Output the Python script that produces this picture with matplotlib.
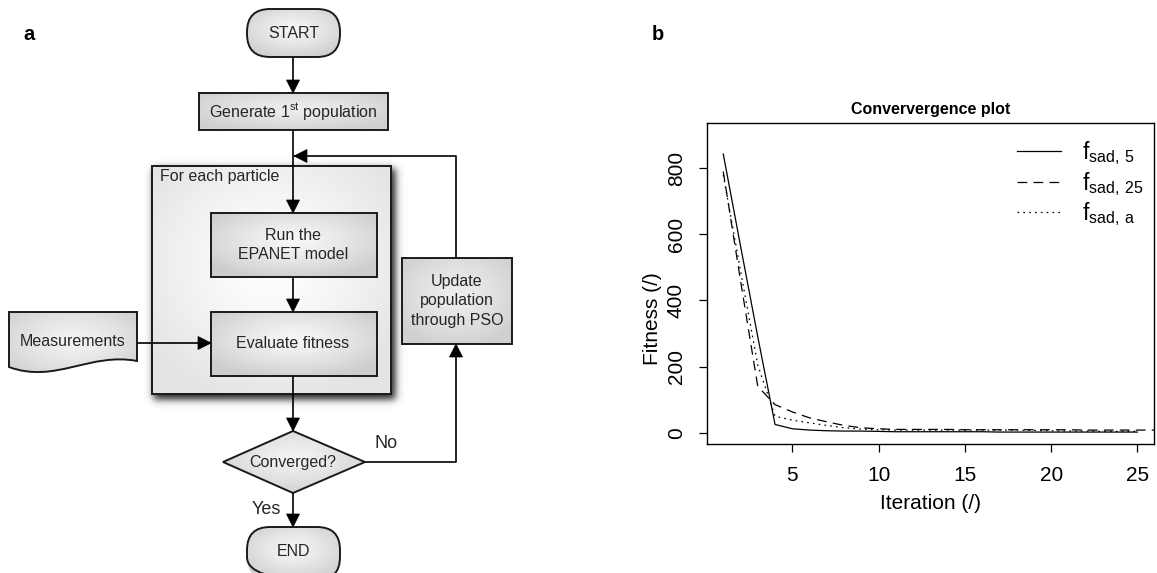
import matplotlib
matplotlib.use('Agg')

import matplotlib.pyplot as plt
import numpy as np
from matplotlib.patches import Rectangle, FancyBboxPatch, Polygon, PathPatch
from matplotlib.path import Path

plt.rcParams['font.family'] = ['Liberation Sans', 'DejaVu Sans']
plt.rcParams['mathtext.default'] = 'regular'
plt.rcParams['lines.scale_dashes'] = False

# ---- convergence data (panel b) ----
iter_a = list(range(1, 26))
f_sad5 = [843, 565, 290, 25, 12, 8, 6, 5, 5, 4, 3, 3, 3, 3, 3, 3, 2, 2, 2, 2, 2, 2, 2, 2, 2]
iter_b = list(range(1, 27))
f_sad25 = [790, 460, 140, 85, 63, 45, 33, 22, 15, 12, 10, 10, 10, 10, 9, 9, 9, 9, 9, 9, 9, 8, 8, 8, 8, 8]
f_sada = [780, 490, 205, 50, 38, 30, 22, 15, 11, 9, 8, 8, 8, 8, 8, 8, 8, 8, 7, 6, 5, 5, 4, 4, 4]
series_labels = [r'$f_{sad,\,5}$', r'$f_{sad,\,25}$', r'$f_{sad,\,a}$']
x_ticks = [5, 10, 15, 20, 25]
y_ticks = [0, 200, 400, 600, 800]

# ---- flowchart layout (panel a), pixel coords ----
cx = 293
boxes = {
    'gen': (199, 93, 388, 130),
    'run': (211, 213, 377, 277),
    'eval': (211, 312, 377, 376),
    'upd': (402, 258, 512, 344),
}
TXT = '#262626'
EDGE = '#1a1a1a'
FS = 11.5

W, H = 1157, 573
fig = plt.figure(figsize=(W / 100, H / 100), dpi=100)
axf = fig.add_axes([0, 0, 1, 1])
axf.set_xlim(0, W)
axf.set_ylim(H, 0)
axf.axis('off')


def grad_fill(patch, ext, c0, c1, z):
    x0, y0, x1, y1 = ext
    X, Y = np.meshgrid(np.linspace(-1, 1, 160), np.linspace(-1, 1, 100))
    r = np.clip(np.sqrt(X ** 2 + (Y + 0.15) ** 2) / 1.25, 0, 1)
    c0 = np.array(matplotlib.colors.to_rgb(c0))
    c1 = np.array(matplotlib.colors.to_rgb(c1))
    img = c0 + (c1 - c0) * (r ** 1.3)[..., None]
    im = axf.imshow(img, extent=(x0, x1, y1, y0), aspect='auto', zorder=z, interpolation='bilinear')
    im.set_clip_path(patch)


def rbox(key, c0='#f7f7f7', c1='#cdcdcd', z=3):
    x0, y0, x1, y1 = boxes[key]
    p = Rectangle((x0, y0), x1 - x0, y1 - y0, fc='none', ec=EDGE, lw=1.4, zorder=z + 1)
    axf.add_patch(p)
    grad_fill(p, (x0, y0, x1, y1), c0, c1, z)


def arrow(pts, z=6):
    xs = [p[0] for p in pts]
    ys = [p[1] for p in pts]
    axf.plot(xs, ys, color='black', lw=1.2, zorder=z, solid_capstyle='butt')
    (xa, ya), (xb, yb) = pts[-2], pts[-1]
    d = np.array([xb - xa, yb - ya], float)
    d /= np.hypot(*d)
    n = np.array([-d[1], d[0]])
    tip = np.array([xb, yb])
    base = tip - d * 13
    tri = [tip, base + n * 6.5, base - n * 6.5]
    axf.add_patch(Polygon(tri, closed=True, fc='black', ec='black', lw=0.5, zorder=z))


def stadium(x0, y0, x1, y1, label, ty):
    p = FancyBboxPatch((x0, y0), x1 - x0, y1 - y0, boxstyle='round,pad=0,rounding_size=23',
                       fc='none', ec=EDGE, lw=1.4, zorder=4)
    axf.add_patch(p)
    grad_fill(p, (x0, y0, x1, y1), '#f5f5f5', '#cfcfcf', 3)
    axf.text((x0 + x1) / 2, ty, label, ha='center', va='center', fontsize=FS, color=TXT, zorder=5)


axf.text(29, 35, 'a', fontsize=14.5, fontweight='bold', ha='center', va='center')
axf.text(658, 35, 'b', fontsize=14.5, fontweight='bold', ha='center', va='center')

stadium(247, 9, 340, 57, 'START', 33)
stadium(247, 527, 340, 580, 'END', 552)

# big loop box with shadow
bx0, by0, bx1, by1 = 152, 166, 391, 394
gx, gy = np.meshgrid(np.arange(bx0 - 20, bx1 + 25), np.arange(by0 - 20, by1 + 25))
s = 4.5
ox, oy = 4, 5
ax_ = 0.5 * (1 + np.tanh((gx - bx0 - ox + 3) / s)) * 0.5 * (1 - np.tanh((gx - bx1 - ox) / s))
ay_ = 0.5 * (1 + np.tanh((gy - by0 - oy + 3) / s)) * 0.5 * (1 - np.tanh((gy - by1 - oy) / s))
shadow = np.zeros(gx.shape + (4,))
shadow[..., 3] = 0.85 * ax_ * ay_
axf.imshow(shadow, extent=(bx0 - 20, bx1 + 25, by1 + 25, by0 - 20), aspect='auto', zorder=1)
big = Rectangle((bx0, by0), bx1 - bx0, by1 - by0, fc='none', ec=EDGE, lw=1.4, zorder=2.5)
axf.add_patch(big)
grad_fill(big, (bx0, by0, bx1, by1), '#ffffff', '#e4e4e4', 2)
axf.text(160, 177, 'For each particle', ha='left', va='center', fontsize=FS, color=TXT, zorder=5)

rbox('gen', '#eeeeee', '#cfcfcf')
rbox('run')
rbox('eval')
rbox('upd', '#eeeeee', '#d0d0d0')
axf.text(cx, 112, 'Generate 1$^{st}$ population', ha='center', va='center', fontsize=FS, color=TXT, zorder=5)
axf.text(cx, 245, 'Run the\nEPANET model', ha='center', va='center', fontsize=FS, color=TXT,
         linespacing=1.4, zorder=5)
axf.text(cx, 344, 'Evaluate fitness', ha='center', va='center', fontsize=FS, color=TXT, zorder=5)
axf.text(457, 301, 'Update\npopulation\nthrough PSO', ha='center', va='center', fontsize=FS,
         color=TXT, linespacing=1.4, zorder=5)

# measurements document shape
doc = Path([(9, 312), (137, 312), (137, 361), (90, 352), (55, 384), (9, 367), (9, 312)],
           [Path.MOVETO, Path.LINETO, Path.LINETO, Path.CURVE4, Path.CURVE4, Path.CURVE4, Path.CLOSEPOLY])
dp = PathPatch(doc, fc='none', ec=EDGE, lw=1.4, zorder=4)
axf.add_patch(dp)
grad_fill(dp, (9, 312, 137, 380), '#f3f3f3', '#d2d2d2', 3)
axf.text(73, 341, 'Measurements', ha='center', va='center', fontsize=FS, color=TXT, zorder=5)

# decision diamond
dm = Polygon([(cx, 431), (365, 462), (cx, 493), (223, 462)], closed=True, fc='none', ec=EDGE, lw=1.4, zorder=4)
axf.add_patch(dm)
grad_fill(dm, (223, 431, 365, 493), '#f3f3f3', '#cfcfcf', 3)
axf.text(cx, 462, 'Converged?', ha='center', va='center', fontsize=FS, color=TXT, zorder=5)
axf.text(386, 444, 'No', ha='center', va='center', fontsize=13, color=TXT)
axf.text(266, 509, 'Yes', ha='center', va='center', fontsize=13, color=TXT)

# connectors
arrow([(cx, 57), (cx, 93)])
arrow([(cx, 130), (cx, 213)])
arrow([(456, 258), (456, 156), (cx + 1, 156)])
arrow([(cx, 277), (cx, 312)])
arrow([(137, 343), (211, 343)])
arrow([(cx, 376), (cx, 431)])
arrow([(365, 462), (456, 462), (456, 344)])
arrow([(cx, 493), (cx, 527)])

# ---- panel b: convergence plot ----
ax = fig.add_axes([706.7 / W, 1 - 444.3 / H, (1154 - 706.7) / W, (444.3 - 123.3) / H])
ax.plot(iter_a, f_sad5, color='black', lw=0.9, label=series_labels[0])
ax.plot(iter_b, f_sad25, color='black', lw=0.9, linestyle=(0, (7, 4.5)), label=series_labels[1])
ax.plot(iter_a, f_sada, color='black', lw=0.9, linestyle=(0, (1.2, 3.0)), label=series_labels[2])
ax.set_xlim(0.04, 25.96)
ax.set_ylim(-35, 936)
ax.set_xticks(x_ticks)
ax.set_yticks(y_ticks)
ax.tick_params(axis='both', direction='out', length=6, width=0.9, labelsize=15, color='black')
ax.tick_params(axis='x', pad=9.5)
ax.tick_params(axis='y', pad=9)
for lab in ax.get_yticklabels():
    lab.set_rotation(90)
    lab.set_va('center')
for sp in ax.spines.values():
    sp.set_linewidth(1.0)
ax.set_title('Conververgence plot', fontsize=11.5, fontweight='bold', pad=7)
ax.set_xlabel('Iteration (/)', fontsize=15)
ax.set_ylabel('Fitness (/)', fontsize=15)
ax.xaxis.set_label_coords(0.5, -0.155)
ax.yaxis.set_label_coords(-0.10, 0.39)
ax.legend(loc='upper left', bbox_to_anchor=(0.694, 0.95), frameon=False, fontsize=16.5,
          handlelength=1.9, handletextpad=0.95, labelspacing=0.12, borderpad=0, borderaxespad=0)

fig.savefig('out.png', dpi=100)
